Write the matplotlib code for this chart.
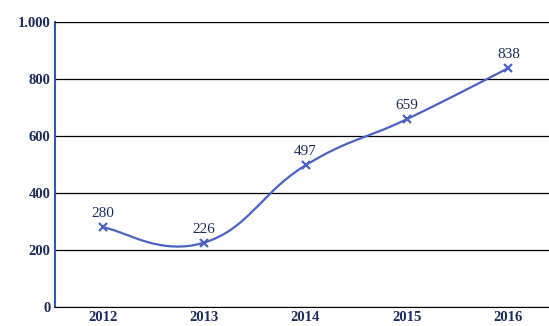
import numpy as np
import matplotlib.pyplot as plt

years = ['2012', '2013', '2014', '2015', '2016']
values = [280, 226, 497, 659, 838]
yticks = [0, 200, 400, 600, 800, 1000]
ytick_labels = ['0', '200', '400', '600', '800', '1.000']

line_color = '#4a62c2'
text_color = '#1c2a5a'


def smooth_curve(xs, ys, k=0.22, n=40):
    # smoothed line: cubic bezier with catmull-rom style control points
    pts = np.column_stack([xs, ys]).astype(float)
    out = []
    for i in range(len(pts) - 1):
        p0 = pts[i - 1] if i > 0 else pts[i]
        p1 = pts[i]
        p2 = pts[i + 1]
        p3 = pts[i + 2] if i + 2 < len(pts) else pts[i + 1]
        c1 = p1 + (p2 - p0) * k
        c2 = p2 - (p3 - p1) * k
        t = np.linspace(0, 1, n)[:, None]
        seg = ((1 - t) ** 3) * p1 + 3 * ((1 - t) ** 2) * t * c1 + 3 * (1 - t) * t ** 2 * c2 + t ** 3 * p2
        out.append(seg)
    seg = np.vstack(out)
    return seg[:, 0], seg[:, 1]


fig = plt.figure(figsize=(5.49, 3.26), dpi=100)
ax = fig.add_axes([0.1, 0.058, 0.9, 0.875])

x = np.arange(len(years))
sx, sy = smooth_curve(x, values)
ax.plot(sx, sy, color=line_color, lw=1.6)
ax.plot(x, values, 'x', color=line_color, ms=6, mew=1.6)

for xi, v in zip(x, values):
    ax.annotate(str(v), (xi, v), xytext=(0, 5), textcoords='offset points',
                ha='center', va='bottom', fontsize=11, family='Liberation Serif',
                color=text_color)

ax.set_xlim(-0.47, 4.4)
ax.set_ylim(0, 1000)
ax.set_yticks(yticks)
ax.set_yticklabels(ytick_labels)
ax.set_xticks(x)
ax.set_xticklabels(years)
for lab in ax.get_xticklabels() + ax.get_yticklabels():
    lab.set_family('Liberation Serif')
    lab.set_fontweight('bold')
    lab.set_fontsize(10.5)
    lab.set_color(text_color)
ax.tick_params(length=0, pad=3)

ax.yaxis.grid(True, color='black', lw=0.9)
ax.set_axisbelow(True)
ax.spines['right'].set_visible(False)
ax.spines['top'].set_color('black')
ax.spines['bottom'].set_color('black')
ax.spines['left'].set_color('#2a5aa8')
ax.spines['left'].set_linewidth(1.5)

fig.savefig('out.png', dpi=100)
